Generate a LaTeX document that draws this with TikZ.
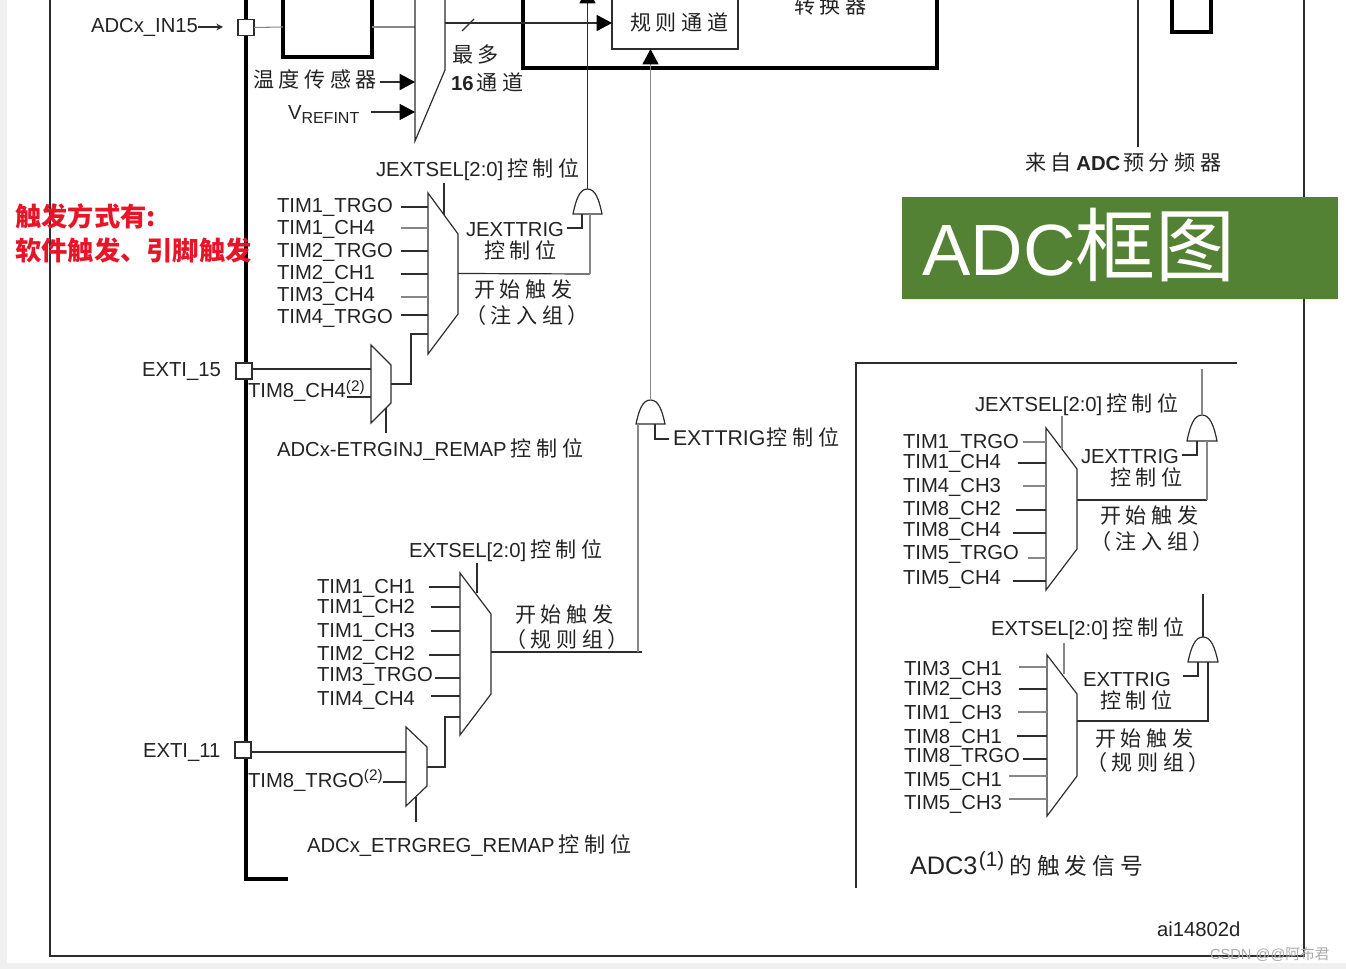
\documentclass[tikz,border=0pt]{standalone}
\usepackage{fontspec}
\setmainfont{Liberation Sans}
\newfontfamily\cjk[LetterSpace=22,Scale=1.04]{Noto Sans CJK SC}
\newfontfamily\cjkplain{Noto Sans CJK SC}
\usetikzlibrary{positioning,arrows.meta,fit,shadows,calc}
\definecolor{adcInk}{RGB}{35,35,35}
\definecolor{adcWire}{RGB}{45,45,45}
\definecolor{adcGrey}{RGB}{135,135,135}
\definecolor{adcGreen}{RGB}{84,130,53}
\definecolor{adcRed}{RGB}{232,20,40}
\definecolor{adcEdge}{RGB}{240,240,240}
\newcommand{\ctrlbits}{\hspace{3pt}{\cjk 控制位}}
\newcommand{\supnote}[1]{\raisebox{5pt}{\fontsize{11.5}{12}\selectfont(#1)}}
\tikzset{
    sig label/.style={font=\fontsize{15.2}{18}\selectfont, text=adcInk, anchor=base west, inner sep=0pt, outer sep=0pt, yshift=-6pt},
    wire dark/.style={draw=adcWire, line width=0.9pt},
    wire grey/.style={draw=adcGrey, line width=0.8pt},
    wire heavy/.style={draw=adcWire, line width=1.5pt},
    box heavy/.style={draw=black, line width=2.4pt},
    block arrow/.style={-{Triangle[length=11.5pt,width=12pt,color=black]}},
    small arrow/.style={-{Stealth[length=5pt,width=5pt]}},
    pin node/.style={rectangle, draw=adcWire, line width=0.9pt, fill=white, minimum width=12pt, minimum height=12pt, inner sep=0pt, outer sep=0pt},
    span node/.style={inner sep=0pt, outer sep=0pt}
}
% mux: name, x left, x right, y top, y upper right, y lower right, y bottom
\newcommand{\muxshape}[7]{
  \node[span node, fit={(#2,#4) (#3,#7)}] (#1) {};
  \draw[wire dark] (#2,#4) -- (#3,#5) -- (#3,#6) -- (#2,#7) -- cycle;
}
% gate: name, x left, x right, y top, y base
\newcommand{\andshape}[5]{
  \node[span node, fit={(#2,#4) (#3,#5)}] (#1) {};
  \draw[wire dark] (#1.south west) .. controls ($(#1.west)+(3,-2)$) and ($(#1.north)+(-8,0)$) .. (#1.north)
     .. controls ($(#1.north)+(8,0)$) and ($(#1.east)+(-3,-2)$) .. (#1.south east) -- cycle;
}
\begin{document}
\begin{tikzpicture}[x=0.75pt, y=-0.75pt]
  \useasboundingbox (0,0) rectangle (1346,969);
  \fill[adcEdge] (0,0) rectangle (7,969);
  \fill[adcEdge] (0,963) rectangle (1346,969);

  % outer frame and bus
  \draw[draw=adcWire, line width=1.4pt] (50,-5) -- (50,956) -- (1304,956) -- (1304,-5);
  \coordinate (bustop) at (246,-5);
  \coordinate (buscorner) at (246,879);
  \coordinate (busend) at (288,879);
  \draw[draw=black, line width=2.4pt] (bustop) -- (buscorner) -- (busend);

  % converter blocks at the top
  \draw[box heavy] (283,-5) -- (283,57) -- (372,57) -- (372,-5);
  \draw[box heavy] (523,-5) -- (523,68) -- (937,68) -- (937,-5);
  \draw[box heavy] (1172,-5) -- (1172,32) -- (1211,32) -- (1211,-5);
  \node[rectangle, draw=adcWire, line width=0.8pt, fill=white, minimum width=94.5pt, minimum height=51pt, inner sep=0pt, outer sep=0pt] (regchan) at (675,15) {};
  \node[sig label] (regchanlab) at (630,23) {\cjk 规则通道};
  \node[sig label] (convlab) at (794,6) {\cjk 转换器};

  \node[pin node] (in15) at (246,27.5) {};
  \node[sig label] (in15lab) at (91,25) {ADCx\_IN15};
  \coordinate (in15arrow) at (198,27);
  \coordinate (in15head) at (223,27);
  \draw[wire dark, small arrow] (in15arrow) -- (in15head);
  \coordinate (chanin) at (415,27);
  \draw[wire grey] (in15.east) -- (283,27);
  \draw[wire grey] (372,27) -- (chanin);

  % 16 channel mux
  \draw[wire dark] (415,-5) -- (415,141) -- (445,70) -- (445,-5);
  \coordinate (chanout) at (445,23);
  \draw[wire dark, block arrow] (chanout) -- (regchan.west |- chanout);
  \draw[wire dark] (462,31) -- (474,19);
  \node[sig label] (templab) at (253,80) {\cjk 温度传感器};
  \coordinate (tempfrom) at (380,82);
  \coordinate (tempto) at (415,82);
  \draw[wire heavy, block arrow] (tempfrom) -- (tempto);
  \node[sig label] (vreflab) at (288,112) {V\raisebox{-3pt}{\fontsize{12}{12}\selectfont REFINT}};
  \coordinate (vreffrom) at (371,112);
  \coordinate (vrefto) at (415,112);
  \draw[wire dark, block arrow] (vreffrom) -- (vrefto);
  \node[sig label] (maxlab) at (452,55) {\cjk 最多};
  \node[sig label] (countlab) at (451,83) {\textbf{16}\hspace{2.5pt}{\cjk 通道}};

  % injected trigger mux
  \muxshape{injmux}{428}{458}{193}{234}{314}{354}
  \node[sig label] (injsel) at (376,169) {JEXTSEL[2:0]\ctrlbits};
  \coordinate (injselin) at (444,183);
  \coordinate (injselend) at (444,215);
  \draw[wire dark] (injselin) -- (injselend);
  \foreach \sig/\ylab/\xin/\ywire/\tone [count=\i] in {
      TIM1\_TRGO/205/401/207/wire heavy, TIM1\_CH4/227/401/228/wire grey,
      TIM2\_TRGO/250/401/251/wire heavy, TIM2\_CH1/272/401/274/wire dark,
      TIM3\_CH4/294/401/297/wire grey, TIM4\_TRGO/316/401/315/wire dark} {
    \node[sig label] (injlab\i) at (277,\ylab) {\sig};
    \coordinate (injin\i) at (\xin,\ywire);
    \draw[\tone] (injin\i) -- (injin\i -| injmux.west);
  }
  \andshape{injand}{573}{602}{189}{214}
  \coordinate (injtop) at (587.5,-12);
  \draw[wire dark, block arrow] (injand.north) -- (injtop);
  \coordinate (injjoin) at (590,274);
  \draw[wire dark] (injmux.east) -- (injjoin);
  \draw[wire grey] (injjoin) -- (injjoin |- injand.south);
  \node[sig label] (injtrig) at (466,229) {JEXTTRIG};
  \coordinate (injtrigin) at (567,228);
  \coordinate (injtrigup) at (582,228);
  \draw[wire dark] (injtrigin) -- (injtrigup) -- (injtrigup |- injand.south);
  \node[sig label] (injtrigbits) at (484,251) {\cjk 控制位};
  \node[sig label] (injstart) at (474,290) {\cjk 开始触发};
  \node[sig label] (injgroup) at (465,316) {\cjk （注入组）};

  % remap mux of the injected group
  \muxshape{injremap}{371}{391}{345}{365}{403}{423}
  \node[pin node] (exti15) at (244,371) {};
  \node[sig label] (exti15lab) at (142,369) {EXTI\_15};
  \coordinate (exti15to) at (371,369);
  \draw[wire heavy] (exti15to -| exti15.east) -- (exti15to);
  \node[sig label] (tim8ch4) at (248,390) {TIM8\_CH4\supnote{2}};
  \coordinate (tim8ch4from) at (347,397);
  \draw[wire dark] (tim8ch4from) -- (tim8ch4from -| injremap.west);
  \coordinate (injbend) at (411,334);
  \draw[wire heavy] (injremap.east) -| (injbend) -- (injbend -| injmux.west);
  \coordinate (injremapsel) at (386,433);
  \coordinate (injremapend) at (386,408);
  \draw[wire dark] (injremapsel) -- (injremapend);
  \node[sig label] (injremaplab) at (277,449) {ADCx-ETRGINJ\_REMAP\ctrlbits};

  % regular trigger gate
  \andshape{regand}{636}{665}{400}{424}
  \draw[wire grey, block arrow] (regand.north) -- (regand.north |- regchan.south);
  \coordinate (regtrigbend) at (655,439);
  \coordinate (regtrigend) at (669,439);
  \draw[wire dark] (regtrigbend |- regand.south) -- (regtrigbend) -- (regtrigend);
  \node[sig label] (regtrig) at (673,438) {{\fontsize{16}{18}\selectfont EXTTRIG}\hspace{1pt}{\cjk 控制位}};

  % regular trigger mux
  \muxshape{regmux}{460}{491}{573}{614}{694}{735}
  \node[sig label] (regsel) at (409,549) {EXTSEL[2:0]\ctrlbits};
  \coordinate (regselin) at (477,563);
  \coordinate (regselend) at (477,593);
  \draw[wire dark] (regselin) -- (regselend);
  \foreach \sig/\ylab/\xin/\ywire/\tone [count=\i] in {
      TIM1\_CH1/586/429/587/wire dark, TIM1\_CH2/606/431/607/wire heavy,
      TIM1\_CH3/629/431/631/wire dark, TIM2\_CH2/652/429/655/wire dark,
      TIM3\_TRGO/673/435/678/wire heavy, TIM4\_CH4/697/431/696/wire dark} {
    \node[sig label] (reglab\i) at (317,\ylab) {\sig};
    \coordinate (regin\i) at (\xin,\ywire);
    \draw[\tone] (regin\i) -- (regin\i -| regmux.west);
  }
  \coordinate (regjoin) at (642,652);
  \coordinate (regleg) at (638,652);
  \draw[wire dark] (regjoin -| regmux.east) -- (regjoin);
  \draw[wire grey] (regleg) -- (regleg |- regand.south);
  \node[sig label] (regstart) at (515,614) {\cjk 开始触发};
  \node[sig label] (reggroup) at (505,639) {\cjk （规则组）};

  % remap mux of the regular group
  \muxshape{regremap}{406}{427}{727}{747}{786}{806}
  \node[pin node] (exti11) at (243,750) {};
  \node[sig label] (exti11lab) at (143,749) {EXTI\_11};
  \coordinate (exti11to) at (406,752);
  \draw[wire heavy] (exti11to -| exti11.east) -- (exti11to);
  \node[sig label] (tim8trgo) at (248,779) {TIM8\_TRGO\supnote{2}};
  \coordinate (tim8trgofrom) at (383,782);
  \draw[wire heavy] (tim8trgofrom) -- (tim8trgofrom -| regremap.west);
  \coordinate (regbend) at (445,717);
  \draw[wire heavy] (regremap.east) -| (regbend) -- (regbend -| regmux.west);
  \coordinate (regremapsel) at (416,822);
  \coordinate (regremapend) at (416,797);
  \draw[wire dark] (regremapsel) -- (regremapend);
  \node[sig label] (regremaplab) at (307,844) {ADCx\_ETRGREG\_REMAP\ctrlbits};

  % prescaler line
  \coordinate (prescaletop) at (1138,-5);
  \coordinate (prescaleend) at (1138,147);
  \draw[wire dark] (prescaletop) -- (prescaleend);
  \node[sig label] (prescalelab) at (1025,163) {{\cjk 来自}\textbf{ADC}\hspace{2pt}{\cjk 预分频器}};

  % title banner
  \node[rectangle, fill=adcGreen, minimum width=327pt, minimum height=76.5pt, inner sep=0pt, outer sep=0pt,
        drop shadow={opacity=0.15, shadow xshift=0pt, shadow yshift=-1pt}] (banner) at (1120,248) {};
  \node[anchor=base west, inner sep=0pt, text=white, font=\fontsize{54.5}{60}\selectfont] (bannertext) at (922,276) {ADC{\cjkplain\fontsize{60}{60}\selectfont 框图}};

  % ADC3 panel
  \draw[draw=adcWire, line width=1.2pt] (856,888) -- (856,363) -- (1237,363);
  \muxshape{adcinjmux}{1046}{1077}{428}{469}{549}{590}
  \node[sig label] (adcinjsel) at (975,404) {JEXTSEL[2:0]\ctrlbits};
  \coordinate (adcinjselin) at (1062,416);
  \coordinate (adcinjselend) at (1062,449);
  \draw[wire grey] (adcinjselin) -- (adcinjselend);
  \foreach \sig/\ylab/\xin/\ywire/\tone [count=\i] in {
      TIM1\_TRGO/441/1023/442/wire grey, TIM1\_CH4/461/1018/463/wire dark,
      TIM4\_CH3/485/1023/486/wire grey, TIM8\_CH2/508/1016/510/wire dark,
      TIM8\_CH4/529/1013/533/wire dark, TIM5\_TRGO/552/1028/558/wire grey,
      TIM5\_CH4/577/1013/581/wire dark} {
    \node[sig label] (adcinjlab\i) at (903,\ylab) {\sig};
    \coordinate (adcinjin\i) at (\xin,\ywire);
    \draw[\tone] (adcinjin\i) -- (adcinjin\i -| adcinjmux.west);
  }
  \andshape{adcinjand}{1187}{1217}{415}{441}
  \coordinate (adcinjtop) at (1202,369);
  \draw[wire grey] (adcinjand.north) -- (adcinjtop);
  \coordinate (adcinjjoin) at (1207,500);
  \draw[wire dark] (adcinjjoin -| adcinjmux.east) -- (adcinjjoin);
  \draw[wire grey] (adcinjjoin) -- (adcinjjoin |- adcinjand.south);
  \node[sig label] (adcinjtrig) at (1081,456) {JEXTTRIG};
  \coordinate (adcinjtrigin) at (1182,455);
  \coordinate (adcinjtrigup) at (1197,455);
  \draw[wire dark] (adcinjtrigin) -- (adcinjtrigup) -- (adcinjtrigup |- adcinjand.south);
  \node[sig label] (adcinjbits) at (1110,478) {\cjk 控制位};
  \node[sig label] (adcinjstart) at (1100,516) {\cjk 开始触发};
  \node[sig label] (adcinjgroup) at (1090,542) {\cjk （注入组）};

  \muxshape{adcregmux}{1047}{1077}{655}{694}{776}{816}
  \node[sig label] (adcregsel) at (991,627) {EXTSEL[2:0]\ctrlbits};
  \coordinate (adcregselin) at (1064,643);
  \coordinate (adcregselend) at (1064,674);
  \draw[wire grey] (adcregselin) -- (adcregselend);
  \foreach \sig/\ylab/\xin/\ywire/\tone [count=\i] in {
      TIM3\_CH1/667/1019/667/wire grey, TIM2\_CH3/687/1019/689/wire dark,
      TIM1\_CH3/711/1018/712/wire grey, TIM8\_CH1/735/1017/736/wire dark,
      TIM8\_TRGO/754/1023/759/wire heavy, TIM5\_CH1/778/1009/776/wire grey,
      TIM5\_CH3/801/1009/799/wire grey} {
    \node[sig label] (adcreglab\i) at (904,\ylab) {\sig};
    \coordinate (adcregin\i) at (\xin,\ywire);
    \draw[\tone] (adcregin\i) -- (adcregin\i -| adcregmux.west);
  }
  \andshape{adcregand}{1188}{1218}{637}{662}
  \coordinate (adcregtop) at (1203,594);
  \draw[wire heavy] (adcregand.north) -- (adcregtop);
  \coordinate (adcregjoin) at (1208,721);
  \draw[wire heavy] (adcregjoin -| adcregmux.east) -- (adcregjoin) -- (adcregjoin |- adcregand.south);
  \node[sig label] (adcregtrig) at (1083,678) {EXTTRIG};
  \coordinate (adcregtrigin) at (1183,676);
  \coordinate (adcregtrigup) at (1198,676);
  \draw[wire dark] (adcregtrigin) -- (adcregtrigup) -- (adcregtrigup |- adcregand.south);
  \node[sig label] (adcregbits) at (1100,700) {\cjk 控制位};
  \node[sig label] (adcregstart) at (1095,738) {\cjk 开始触发};
  \node[sig label] (adcreggroup) at (1086,762) {\cjk （规则组）};

  \node[sig label, font=\fontsize{19}{22}\selectfont] (adc3lab) at (910,866) {ADC3\hspace{1pt}\raisebox{6pt}{\fontsize{15.5}{16}\selectfont(1)}\hspace{4pt}{\fontsize{16.4}{22}\selectfont\cjk 的触发信号}};
  \node[sig label] (figcode) at (1157,928) {ai14802d};
  \node[sig label, text=adcGrey!70, font=\fontsize{11}{14}\selectfont] (watermark) at (1210,951) {CSDN @@{\cjkplain 阿布君}};

  % red note
  \node[anchor=base west, inner sep=0pt, text=adcRed, font=\fontsize{19.7}{24}\selectfont\bfseries] (notetop) at (15,227) {\cjkplain\bfseries 触发方式有:};
  \node[anchor=base west, inner sep=0pt, text=adcRed, font=\fontsize{19.7}{24}\selectfont\bfseries] (notebottom) at (15,261) {\cjkplain\bfseries 软件触发、引脚触发};
\end{tikzpicture}
\end{document}
